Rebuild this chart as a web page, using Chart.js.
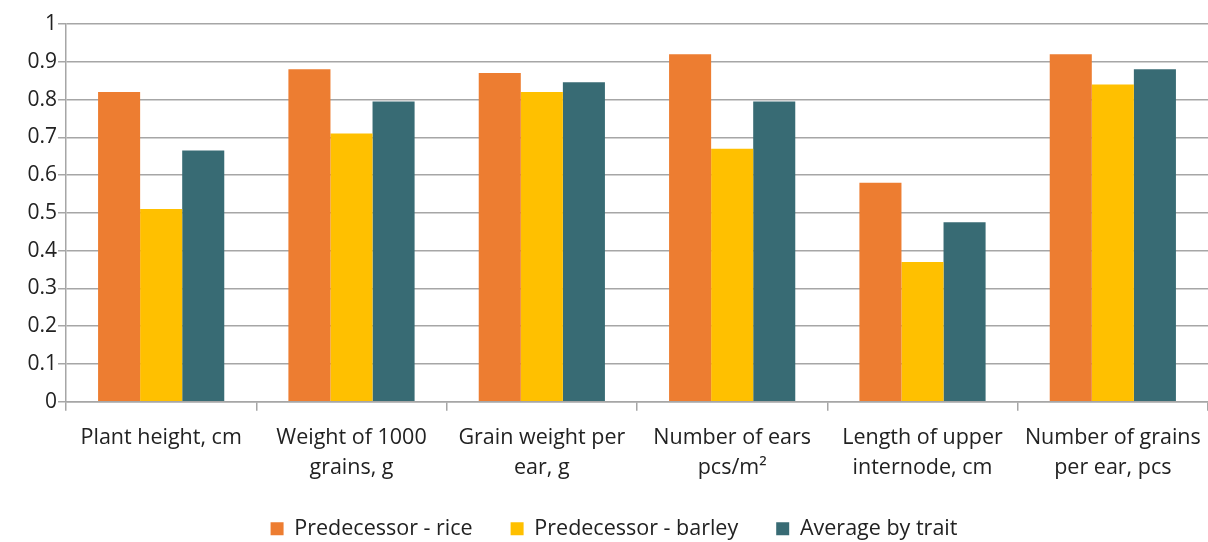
<!DOCTYPE html>
<html>
<head>
<meta charset="utf-8">
<script src="https://cdn.jsdelivr.net/npm/chart.js@4/dist/chart.umd.min.js"></script>
<style>
html,body{margin:0;padding:0;background:#fff;}
#wrap{width:1208px;height:542px;position:relative;}
</style>
</head>
<body>
<div id="wrap"><canvas id="c" width="1208" height="542"></canvas></div>
<script>
const categories = [
  ["Plant height, cm"],
  ["Weight of 1000", "grains, g"],
  ["Grain weight per", "ear, g"],
  ["Number of ears", "pcs/m²"],
  ["Length of upper", "internode, cm"],
  ["Number of grains", "per ear, pcs"]
];
const seriesNames = ["Predecessor - rice", "Predecessor - barley", "Average by trait"];
const rice = [0.82, 0.88, 0.87, 0.92, 0.58, 0.92];
const barley = [0.51, 0.71, 0.82, 0.67, 0.37, 0.84];
const average = [0.665, 0.795, 0.846, 0.795, 0.475, 0.88];
const yTicks = [0, 0.1, 0.2, 0.3, 0.4, 0.5, 0.6, 0.7, 0.8, 0.9, 1];

const FONT = "'Open Sans', 'Noto Sans', sans-serif";
const colors = ["#ED7D31", "#FFC000", "#386B74"];

const legendShift = {
  id: 'legendShift',
  afterLayout(chart) {
    if (chart.legend) { chart.legend.left += 10; chart.legend.right += 10; }
  }
};

new Chart(document.getElementById('c'), {
  type: 'bar',
  data: {
    labels: categories,
    datasets: [
      {label: seriesNames[0], data: rice, backgroundColor: colors[0]},
      {label: seriesNames[1], data: barley, backgroundColor: colors[1]},
      {label: seriesNames[2], data: average, backgroundColor: colors[2]}
    ]
  },
  plugins: [legendShift],
  options: {
    responsive: false,
    animation: false,
    devicePixelRatio: 1,
    layout: {padding: {top: 24, right: 0, left: 0, bottom: 2}},
    datasets: {bar: {categoryPercentage: 0.663, barPercentage: 1.0}},
    plugins: {
      legend: {
        position: 'bottom',
        maxHeight: 60,
        labels: {
          boxWidth: 13, boxHeight: 13, padding: 38,
          color: '#222', font: {family: FONT, size: 21.5}
        }
      },
      tooltip: {enabled: false}
    },
    scales: {
      x: {
        afterFit: (s) => { s.height = s.height - 15; s.paddingRight = 0; },
        grid: {offset: true, drawOnChartArea: false, drawTicks: true, tickLength: 9, color: '#a6a6a6', lineWidth: 1.5},
        border: {color: '#a6a6a6', width: 1.5},
        ticks: {color: '#222', font: {family: FONT, size: 21.5, lineHeight: 1.4}, maxRotation: 0, autoSkip: false, padding: 12}
      },
      y: {
        min: 0, max: 1,
        afterBuildTicks: (s) => { s.ticks = yTicks.map(v => ({value: v})); },
        afterFit: (s) => { s.width = 66; },
        grid: {color: '#a6a6a6', lineWidth: 1.5, tickLength: 8},
        border: {color: '#a6a6a6', width: 1.5},
        ticks: {color: '#222', font: {family: FONT, size: 21}, padding: 1,
          callback: (v) => String(Math.round(v * 10) / 10)}
      }
    }
  }
});
</script>
</body>
</html>
